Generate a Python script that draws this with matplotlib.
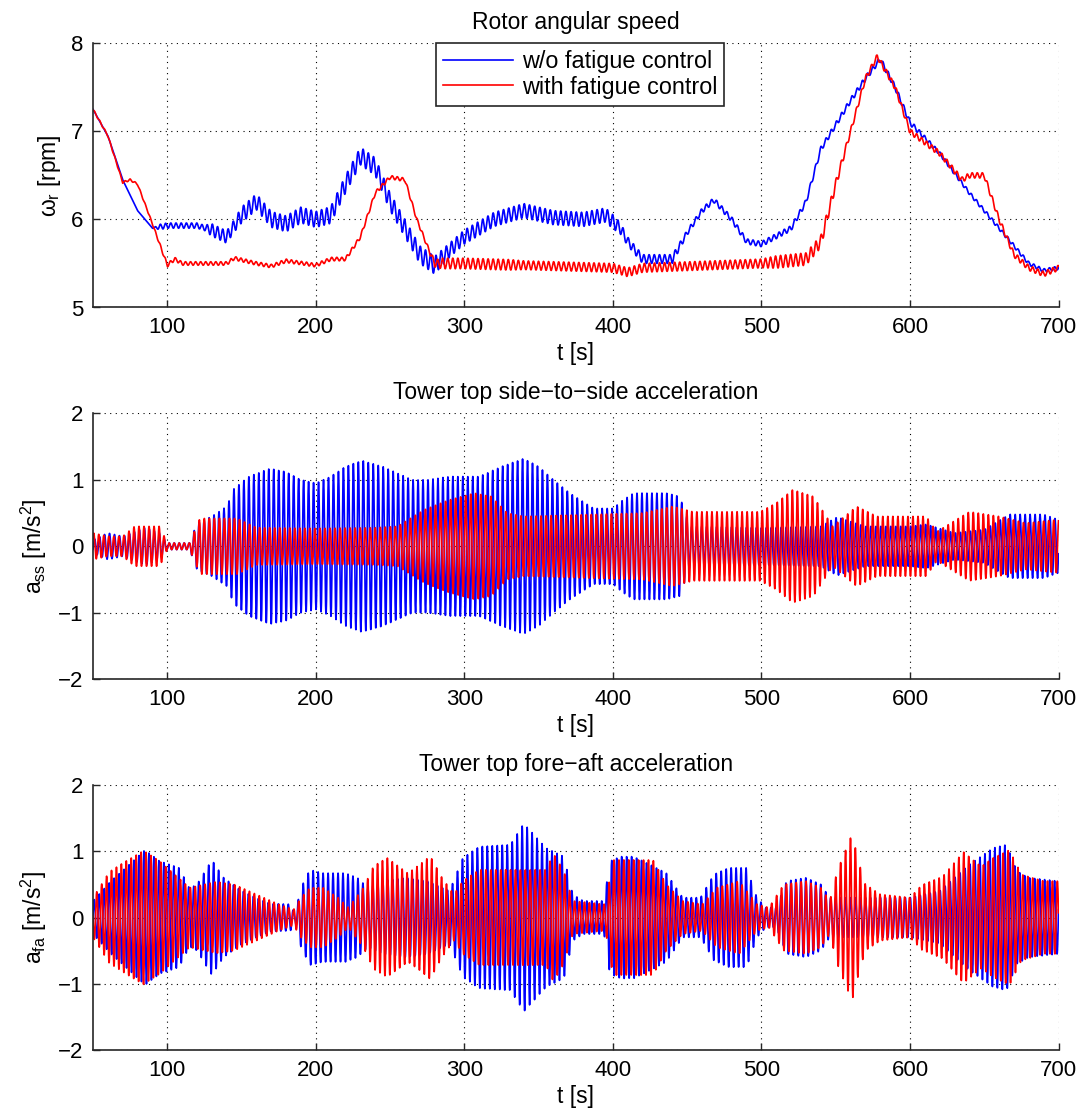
import numpy as np
import matplotlib
matplotlib.use("Agg")
import matplotlib.pyplot as plt

plt.rcParams['font.family'] = ['Liberation Sans', 'DejaVu Sans']
plt.rcParams['mathtext.fontset'] = 'custom'
plt.rcParams['mathtext.rm'] = 'Liberation Sans'
plt.rcParams['mathtext.it'] = 'Liberation Sans'

# ---- rotor speed: slow trend knots (t [s], rpm) and ripple amplitude knots ----
w_blue_t = [50, 60, 70, 80, 90, 100, 110, 120, 130, 140, 150, 160, 170, 180, 190, 200,
            210, 220, 230, 240, 250, 260, 270, 280, 290, 300, 320, 340, 360, 380, 395,
            405, 410, 420, 440, 450, 460, 468, 480, 490, 500, 520, 530, 540, 560, 570,
            580, 590, 600, 620, 640, 660, 680, 690, 700]
w_blue_v = [7.25, 6.95, 6.45, 6.1, 5.9, 5.93, 5.93, 5.93, 5.88, 5.8, 6.05, 6.2, 6.0, 5.95,
            6.05, 6.0, 6.05, 6.4, 6.72, 6.6, 6.2, 5.9, 5.6, 5.48, 5.65, 5.8, 6.0, 6.1, 6.02,
            6.0, 6.05, 5.9, 5.75, 5.55, 5.55, 5.85, 6.1, 6.22, 6.0, 5.75, 5.72, 5.9, 6.2,
            6.8, 7.35, 7.6, 7.82, 7.5, 7.1, 6.75, 6.3, 5.9, 5.5, 5.42, 5.45]
w_blue_rip_t = [50, 90, 95, 125, 130, 145, 150, 200, 220, 280, 290, 400, 410, 440, 450, 600, 620, 700]
w_blue_rip_a = [0.0, 0.0, 0.03, 0.03, 0.07, 0.07, 0.09, 0.09, 0.1, 0.1, 0.08, 0.08, 0.05, 0.05,
                0.03, 0.03, 0.02, 0.02]

w_red_t = [50, 60, 70, 75, 80, 90, 100, 105, 110, 140, 145, 160, 170, 180, 200, 210, 220,
           230, 240, 250, 260, 268, 275, 280, 300, 400, 410, 420, 500, 530, 540, 550, 560,
           570, 578, 590, 600, 620, 635, 640, 650, 660, 670, 680, 690, 700]
w_red_v = [7.25, 6.95, 6.42, 6.45, 6.4, 5.95, 5.48, 5.55, 5.5, 5.5, 5.56, 5.5, 5.47, 5.53,
           5.48, 5.55, 5.55, 5.8, 6.3, 6.48, 6.45, 6.0, 5.7, 5.5, 5.5, 5.45, 5.4, 5.45, 5.5,
           5.55, 5.75, 6.4, 7.0, 7.6, 7.85, 7.5, 7.0, 6.75, 6.45, 6.5, 6.5, 6.0, 5.6, 5.45,
           5.38, 5.45]
w_red_rip_t = [50, 90, 100, 275, 285, 330, 340, 500, 510, 540, 560, 700]
w_red_rip_a = [0.01, 0.01, 0.02, 0.02, 0.06, 0.06, 0.05, 0.05, 0.07, 0.07, 0.03, 0.03]

# ---- side-to-side acceleration envelopes (t [s], m/s^2) ----
ss_blue_t = [50, 60, 70, 85, 95, 100, 115, 120, 130, 140, 145, 155, 169, 180, 190, 200, 210,
             220, 231, 245, 255, 265, 275, 290, 310, 325, 340, 350, 360, 371, 387, 400, 407,
             414, 436, 445, 452, 500, 540, 551, 570, 600, 611, 630, 650, 667, 690, 700]
ss_blue_a = [0.1, 0.2, 0.15, 0.28, 0.2, 0.05, 0.05, 0.35, 0.45, 0.6, 0.87, 1.05, 1.17, 1.12,
             1.0, 0.95, 1.05, 1.2, 1.29, 1.2, 1.1, 1.0, 1.0, 1.05, 1.05, 1.2, 1.32, 1.2, 1.0,
             0.8, 0.57, 0.57, 0.7, 0.8, 0.8, 0.75, 0.3, 0.28, 0.3, 0.44, 0.3, 0.3, 0.33, 0.2,
             0.25, 0.48, 0.48, 0.4]
ss_red_t = [50, 60, 70, 78, 95, 100, 115, 122, 135, 147, 160, 200, 240, 255, 273, 290, 307,
            318, 329, 340, 371, 420, 440, 454, 499, 510, 521, 535, 548, 564, 578, 611, 618,
            640, 660, 678, 700]
ss_red_a = [0.2, 0.15, 0.15, 0.3, 0.3, 0.05, 0.05, 0.42, 0.42, 0.42, 0.28, 0.27, 0.28, 0.3,
            0.55, 0.7, 0.8, 0.75, 0.5, 0.45, 0.47, 0.5, 0.6, 0.52, 0.52, 0.65, 0.85, 0.75,
            0.3, 0.6, 0.45, 0.45, 0.22, 0.52, 0.45, 0.35, 0.4]

# ---- fore-aft acceleration envelopes (t [s], m/s^2) ----
fa_blue_t = [50, 62, 72, 85, 95, 103, 108, 115, 120, 130, 138, 149, 160, 170, 183, 186, 190,
             196, 205, 220, 228, 235, 245, 260, 275, 290, 299, 310, 331, 340, 355, 367, 373,
             380, 394, 398, 405, 414, 425, 436, 447, 459, 468, 478, 490, 497, 503, 510, 517,
             530, 540, 546, 560, 580, 600, 620, 640, 656, 665, 672, 680, 700]
fa_blue_a = [0.25, 0.55, 0.75, 1.02, 0.85, 0.79, 0.75, 0.44, 0.5, 0.87, 0.6, 0.42, 0.3, 0.21,
             0.2, 0.05, 0.45, 0.72, 0.67, 0.67, 0.6, 0.45, 0.55, 0.6, 0.55, 0.4, 0.9, 1.07,
             1.1, 1.42, 1.05, 0.92, 0.35, 0.25, 0.25, 0.85, 0.92, 0.92, 0.8, 0.67, 0.3, 0.3,
             0.65, 0.75, 0.75, 0.3, 0.15, 0.15, 0.55, 0.6, 0.5, 0.3, 0.3, 0.3, 0.3, 0.4, 0.8,
             1.05, 1.1, 0.7, 0.6, 0.55]
fa_red_t = [50, 61, 72, 84, 95, 105, 115, 125, 133, 145, 155, 165, 175, 185, 190, 196, 205,
            215, 222, 232, 239, 248, 262, 270, 277, 285, 293, 299, 310, 355, 360, 367, 373,
            395, 400, 427, 436, 447, 460, 470, 485, 497, 505, 515, 530, 540, 546, 551, 561,
            566, 570, 580, 600, 608, 622, 636, 648, 656, 667, 675, 690, 700]
fa_red_a = [0.3, 0.69, 0.85, 1.01, 0.85, 0.65, 0.45, 0.5, 0.54, 0.5, 0.4, 0.3, 0.2, 0.12, 0.3,
            0.45, 0.45, 0.3, 0.15, 0.45, 0.78, 0.9, 0.67, 0.8, 0.93, 0.6, 0.35, 0.55, 0.72,
            0.72, 0.97, 0.7, 0.25, 0.2, 0.87, 0.87, 0.5, 0.25, 0.2, 0.45, 0.55, 0.2, 0.15, 0.5,
            0.55, 0.45, 0.25, 0.7, 1.26, 0.8, 0.5, 0.35, 0.3, 0.49, 0.62, 0.99, 0.77, 0.9,
            1.02, 0.65, 0.55, 0.55]

tower_period = 3.35   # tower mode period [s]
ripple_period = 3.5   # drivetrain ripple period [s]

t = np.arange(50, 700.05, 0.1)


def envelope(kt, kv):
    return np.interp(t, kt, kv)


def carrier(period, phase):
    return np.sin(2 * np.pi * t / period + phase)


w_blue = envelope(w_blue_t, w_blue_v) + envelope(w_blue_rip_t, w_blue_rip_a) * carrier(ripple_period, 0.0)
w_red = envelope(w_red_t, w_red_v) + envelope(w_red_rip_t, w_red_rip_a) * carrier(ripple_period * 0.97, 1.1)
ss_blue = envelope(ss_blue_t, ss_blue_a) * carrier(tower_period, 0.0)
ss_red = envelope(ss_red_t, ss_red_a) * carrier(tower_period * 1.01, 2.0)
fa_blue = envelope(fa_blue_t, fa_blue_a) * carrier(tower_period, 0.5)
fa_red = envelope(fa_red_t, fa_red_a) * carrier(tower_period * 0.99, 2.6)

fig = plt.figure(figsize=(10.82, 11.10), dpi=100)
left, width = 93 / 1082, 965.5 / 1082
boxes = [(1 - 307.5 / 1110, 264.2 / 1110), (1 - 679.3 / 1110, 266 / 1110), (1 - 1050 / 1110, 265 / 1110)]

panels = [
    ("Rotor angular speed", r"$\omega_\mathregular{r}$ [rpm]", w_blue, w_red, (5, 8), [5, 6, 7, 8]),
    ("Tower top side\u2212to\u2212side acceleration", r"a$_\mathregular{ss}$ [m/s$^\mathregular{2}$]",
     ss_blue, ss_red, (-2, 2), [-2, -1, 0, 1, 2]),
    ("Tower top fore\u2212aft acceleration", r"a$_\mathregular{fa}$ [m/s$^\mathregular{2}$]",
     fa_blue, fa_red, (-2, 2), [-2, -1, 0, 1, 2]),
]

for (bottom, height), (title, ylab, yb, yr, ylim, yticks) in zip(boxes, panels):
    ax = fig.add_axes([left, bottom, width, height])
    ax.plot(t, yb, color=(0, 0, 1), lw=1.2, label="w/o fatigue control")
    ax.plot(t, yr, color=(1, 0, 0), lw=1.2, label="with fatigue control")
    ax.set_xlim(50, 700)
    ax.set_ylim(*ylim)
    ax.set_xticks([100, 200, 300, 400, 500, 600, 700])
    ax.set_yticks(yticks)
    ax.set_yticklabels([str(v).replace('-', '\u2212') for v in yticks])
    ax.grid(True, color='black', linestyle=(0, (1, 4)), linewidth=0.8)
    for s in ('top', 'right'):
        ax.spines[s].set_visible(False)
    for s in ('left', 'bottom'):
        ax.spines[s].set_color('#262626')
        ax.spines[s].set_linewidth(1.2)
    ax.tick_params(direction='in', length=5, width=1, labelsize=16, colors='#262626',
                   labelcolor='black', pad=7)
    ax.set_title(title, fontsize=16.5, pad=10)
    ax.set_xlabel("t [s]", fontsize=16.5, labelpad=3)
    ax.set_ylabel(ylab, fontsize=16.5, labelpad=6)
    if title.startswith("Rotor"):
        leg = ax.legend(loc='upper center', bbox_to_anchor=(0.5047, 1.0), fontsize=16.8,
                        frameon=True, fancybox=False, handlelength=3.0, handletextpad=0.35,
                        borderpad=0.3, labelspacing=0.1, borderaxespad=0.0)
        leg.get_frame().set_edgecolor('#262626')
        leg.get_frame().set_linewidth(1.2)
        leg.get_frame().set_alpha(1.0)

fig.savefig("out.png", dpi=100)
